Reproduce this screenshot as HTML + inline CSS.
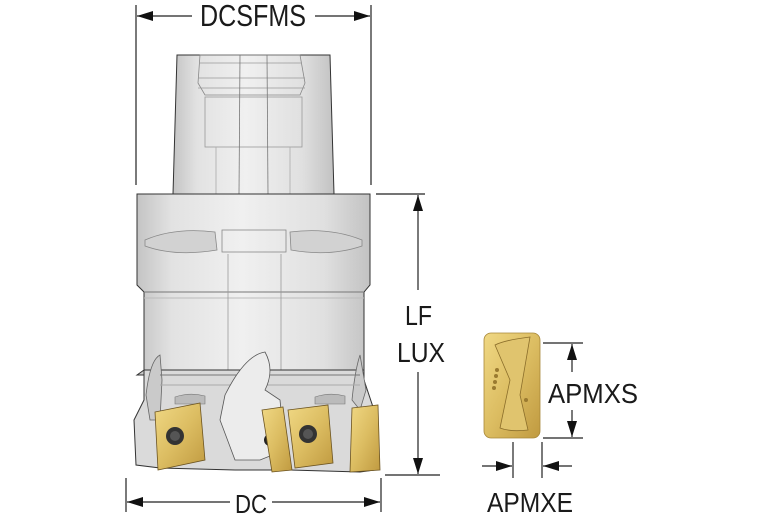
<!DOCTYPE html>
<html><head><meta charset="utf-8"><style>
html,body{margin:0;padding:0;background:#fff;width:767px;height:523px;overflow:hidden}
text{font-family:"Liberation Sans",sans-serif;fill:#1a1a1a}
</style></head><body>
<svg width="767" height="523" viewBox="0 0 767 523" xmlns="http://www.w3.org/2000/svg">
<defs>
<linearGradient id="g" x1="0" x2="1" y1="0" y2="0">
<stop offset="0" stop-color="#c4c4c4"/><stop offset="0.15" stop-color="#e2e2e2"/><stop offset="0.45" stop-color="#f0f0f0"/><stop offset="0.8" stop-color="#e0e0e0"/><stop offset="1" stop-color="#c2c2c2"/>
</linearGradient>
<linearGradient id="gold" x1="0" x2="1" y1="0" y2="1">
<stop offset="0" stop-color="#f0d884"/><stop offset="0.5" stop-color="#dcbd62"/><stop offset="1" stop-color="#c09a40"/>
</linearGradient>
<marker id="a" markerWidth="16" markerHeight="10" refX="16" refY="5" orient="auto" markerUnits="userSpaceOnUse"><path d="M0,0 L16,5 L0,10z" fill="#111"/></marker>
</defs>
<!-- shank -->
<path d="M177,55 L330,55 L334,194 L173,194Z" fill="url(#g)" stroke="#333" stroke-width="1"/>
<path d="M200,55 L300,55 L305,83 L300,95 L205,95 L198,83Z" fill="none" stroke="#888" stroke-width="0.8"/>
<line x1="200" y1="63" x2="302" y2="63" stroke="#999" stroke-width="0.7"/>
<line x1="198" y1="78" x2="305" y2="78" stroke="#999" stroke-width="0.7"/>
<line x1="198" y1="88" x2="305" y2="88" stroke="#999" stroke-width="0.7"/>
<rect x="205" y="97" width="97" height="50" fill="none" stroke="#999" stroke-width="0.8"/>
<rect x="216" y="147" width="74" height="90" fill="none" stroke="#aaa" stroke-width="0.8"/>
<line x1="240" y1="55" x2="239" y2="194" stroke="#777" stroke-width="0.8"/>
<line x1="267" y1="55" x2="268" y2="194" stroke="#777" stroke-width="0.8"/>
<!-- flange body -->
<path d="M137,194 L370,194 L370,285 L364,292 L364,375 L137,375 L144,370 L144,292 L137,285Z" fill="url(#g)" stroke="#333" stroke-width="1"/>
<line x1="144" y1="292" x2="364" y2="292" stroke="#777"/>
<line x1="144" y1="298" x2="364" y2="298" stroke="#bbb"/>
<path d="M145,240 Q175,227 215,232 L217,250 Q175,257 145,246Z" fill="#d2d2d2" stroke="#888" stroke-width="0.8"/>
<path d="M290,232 Q330,227 362,240 L362,246 Q330,257 291,250Z" fill="#d2d2d2" stroke="#888" stroke-width="0.8"/>
<rect x="222" y="230" width="64" height="22" fill="none" stroke="#888" stroke-width="0.8"/>
<line x1="228" y1="254" x2="228" y2="420" stroke="#999" stroke-width="0.8"/>
<line x1="281" y1="254" x2="281" y2="420" stroke="#999" stroke-width="0.8"/>
<!-- cutter head -->
<path d="M144,370 L144,400 L134,420 L136,465 L160,468 L235,470 L290,470 L360,472 L375,470 L374,410 L364,380 L364,370Z" fill="#dadada" stroke="#333" stroke-width="1"/>
<path d="M160,355 Q150,360 146,395 L150,420 L160,420 L162,380Z" fill="#cacaca" stroke="#666" stroke-width="0.8"/>
<path d="M360,355 Q355,370 352,400 L360,410 L366,390Z" fill="#cacaca" stroke="#666" stroke-width="0.8"/>
<line x1="160" y1="375" x2="360" y2="375" stroke="#777"/>
<line x1="160" y1="385" x2="360" y2="385" stroke="#aaa"/>
<path d="M225,395 Q245,355 265,352 Q275,370 265,390 L280,400 L285,450 L260,460 L235,460 L220,420Z" fill="#ececec" stroke="#555" stroke-width="0.8"/>
<circle cx="270" cy="440" r="6" fill="#222"/>
<path d="M175,397 Q190,392 205,396 L205,404 L175,404Z" fill="#bbb" stroke="#777" stroke-width="0.6"/>
<path d="M315,397 Q330,392 345,396 L345,404 L315,404Z" fill="#bbb" stroke="#777" stroke-width="0.6"/>
<!-- inserts -->
<path d="M155,412 L200,403 L205,460 L158,470Z" fill="url(#gold)" stroke="#6b5320" stroke-width="0.8"/>
<circle cx="175" cy="436" r="9" fill="#333"/><circle cx="175" cy="436" r="5" fill="#555"/>
<path d="M262,410 L283,407 L292,470 L272,472Z" fill="url(#gold)" stroke="#6b5320" stroke-width="0.8"/>
<path d="M288,410 L328,405 L333,463 L295,468Z" fill="url(#gold)" stroke="#6b5320" stroke-width="0.8"/>
<circle cx="308" cy="434" r="9" fill="#333"/><circle cx="308" cy="434" r="5" fill="#555"/>
<path d="M352,408 L378,405 L380,470 L350,472Z" fill="url(#gold)" stroke="#6b5320" stroke-width="0.8"/>
<!-- DCSFMS -->
<line x1="136" y1="5" x2="136" y2="185" stroke="#222" stroke-width="1.2"/>
<line x1="371" y1="5" x2="371" y2="185" stroke="#222" stroke-width="1.2"/>
<line x1="192" y1="16" x2="137" y2="16" stroke="#222" stroke-width="1.2" marker-end="url(#a)"/>
<line x1="315" y1="16" x2="370" y2="16" stroke="#222" stroke-width="1.2" marker-end="url(#a)"/>
<text x="200" y="26" font-size="31" textLength="106" lengthAdjust="spacingAndGlyphs">DCSFMS</text>
<!-- LF LUX -->
<line x1="376" y1="194" x2="425" y2="194" stroke="#222" stroke-width="1.2"/>
<line x1="385" y1="475" x2="440" y2="475" stroke="#222" stroke-width="1.2"/>
<line x1="418" y1="290" x2="418" y2="195" stroke="#222" stroke-width="1.2" marker-end="url(#a)"/>
<line x1="418" y1="372" x2="418" y2="474" stroke="#222" stroke-width="1.2" marker-end="url(#a)"/>
<text x="405" y="325" font-size="28" textLength="27" lengthAdjust="spacingAndGlyphs">LF</text>
<text x="397" y="362" font-size="28" textLength="48" lengthAdjust="spacingAndGlyphs">LUX</text>
<!-- DC -->
<line x1="126" y1="478" x2="126" y2="512" stroke="#222" stroke-width="1.2"/>
<line x1="381" y1="478" x2="381" y2="512" stroke="#222" stroke-width="1.2"/>
<line x1="230" y1="502" x2="127" y2="502" stroke="#222" stroke-width="1.2" marker-end="url(#a)"/>
<line x1="272" y1="502" x2="380" y2="502" stroke="#222" stroke-width="1.2" marker-end="url(#a)"/>
<text x="235" y="513" font-size="26" textLength="32" lengthAdjust="spacingAndGlyphs">DC</text>
<!-- insert -->
<rect x="484" y="333" width="56" height="105" rx="7" fill="url(#gold)" stroke="#a8883a" stroke-width="0.8"/>
<path d="M495,345 Q505,340 530,337 L520,395 L528,430 Q510,432 500,428 L510,380Z" fill="#e0c46e" stroke="#8a6d2a" stroke-width="0.8"/>
<circle cx="497" cy="370" r="2" fill="#9a7a30"/><circle cx="496" cy="376" r="2" fill="#9a7a30"/><circle cx="495" cy="382" r="2" fill="#9a7a30"/><circle cx="494" cy="388" r="2" fill="#9a7a30"/>
<circle cx="526" cy="400" r="2" fill="#9a7a30"/>
<!-- APMXS -->
<line x1="543" y1="343" x2="583" y2="343" stroke="#222" stroke-width="1.2"/>
<line x1="543" y1="438" x2="583" y2="438" stroke="#222" stroke-width="1.2"/>
<line x1="572" y1="372" x2="572" y2="344" stroke="#222" stroke-width="1.2" marker-end="url(#a)"/>
<line x1="572" y1="410" x2="572" y2="437" stroke="#222" stroke-width="1.2" marker-end="url(#a)"/>
<text x="548" y="403" font-size="28" textLength="90" lengthAdjust="spacingAndGlyphs">APMXS</text>
<!-- APMXE -->
<line x1="513" y1="442" x2="513" y2="478" stroke="#222" stroke-width="1.2"/>
<line x1="542" y1="442" x2="542" y2="478" stroke="#222" stroke-width="1.2"/>
<line x1="482" y1="466" x2="512" y2="466" stroke="#222" stroke-width="1.2" marker-end="url(#a)"/>
<line x1="572" y1="466" x2="543" y2="466" stroke="#222" stroke-width="1.2" marker-end="url(#a)"/>
<text x="487" y="512" font-size="28" textLength="86" lengthAdjust="spacingAndGlyphs">APMXE</text>
</svg>
</body></html>
